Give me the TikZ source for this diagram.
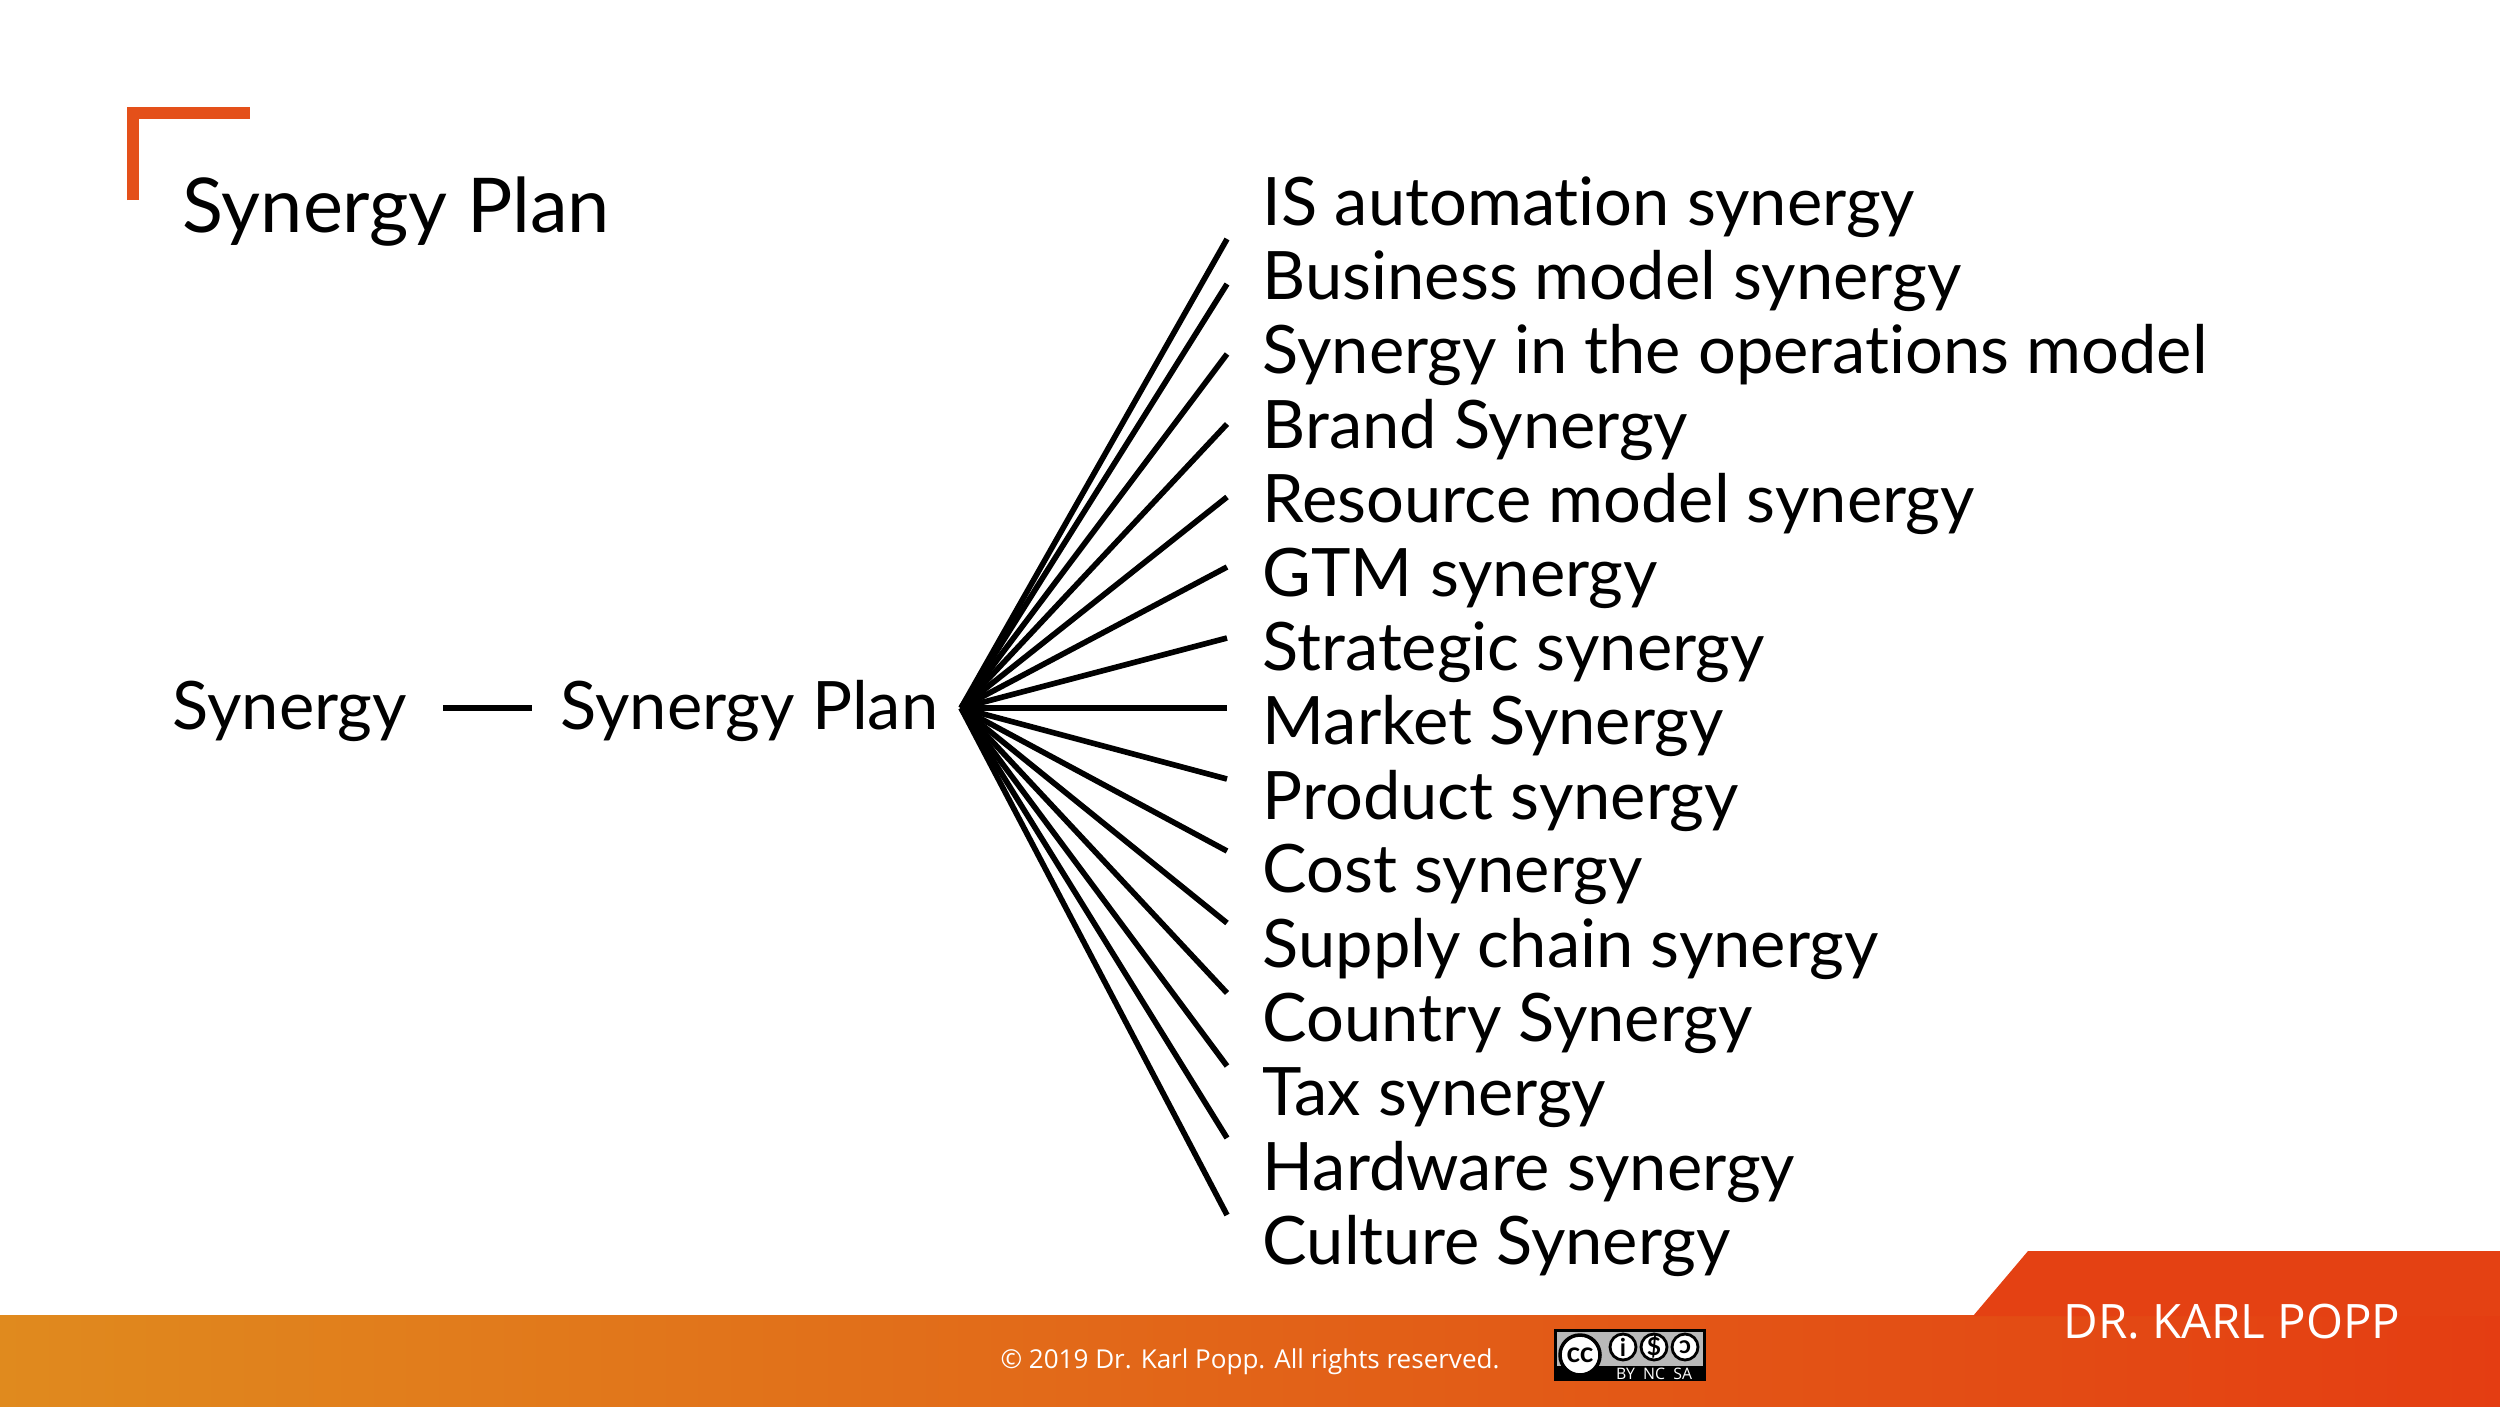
\documentclass[tikz,border=0pt]{standalone}
\usepackage{fontspec}
\setmainfont[Ligatures=NoCommon]{Lato}
\newfontfamily\osans{Open Sans}
\usetikzlibrary{calc}
\definecolor{orL}{HTML}{E08A1E}
\definecolor{orR}{HTML}{E43D12}
\definecolor{brk}{HTML}{E4501A}
\tikzset{lbl/.style={anchor=west,inner sep=0pt,font=\fontsize{19}{19}\selectfont},
 fan/.style={line width=1.6pt},
 mid/.style={inner sep=0pt,font=\fontsize{19}{19}\selectfont}}
\begin{document}
\begin{tikzpicture}[x=0.01cm,y=-0.01cm]
\useasboundingbox (0,0) rectangle (2500,1406);
\fill[white] (0,0) rectangle (2500,1406);
% bracket
\draw[brk,line width=3.2pt] (133,200) -- (133,113) -- (250,113);
\node[anchor=west,inner sep=0pt,font=\fontsize{21.5}{21.5}\selectfont] (title) at (182,212) {Synergy Plan};
% bottom bar
\shade[left color=orL,right color=orR] (0,1315) rectangle (2500,1406);
\fill[orR!95!orL] (1973,1316) -- (2028,1251) -- (2500,1251) -- (2500,1316) -- cycle;
\node[text=white,font=\osans\fontsize{13.5}{13.5}\selectfont] (kp) at (2232,1322) {DR. KARL POPP};
\node[text=white,font=\osans\fontsize{7.4}{7.4}\selectfont] (cp) at (1250,1362) {© 2019 Dr. Karl Popp. All rights reserved.};
% CC badge
\fill[black] (1554,1329) rectangle (1706,1381);
\fill[gray!55] (1557,1332) rectangle (1703,1366);
\fill[white,draw=black,line width=1pt] (1580,1355) circle (20);
\node[font=\bfseries\fontsize{8}{8}\selectfont] (c1) at (1580,1355) {cc};
\foreach \xx in {1623,1654,1685}{
  \fill[white,draw=black,line width=0.8pt] (\xx,1347) circle (13);}
\node[font=\bfseries\fontsize{7}{7}\selectfont] (c2) at (1623,1347) {i};
\node[font=\bfseries\fontsize{7}{7}\selectfont] (c3) at (1654,1347) {\$};
\node[font=\bfseries\fontsize{7}{7}\selectfont] (c4) at (1685,1347) {ↄ};
\node[text=white,font=\osans\fontsize{4.5}{4.5}\selectfont] (c5) at (1654,1374) {BY\ \ NC\ \ SA};
% main
\node[mid,anchor=west] (syn) at (172,711) {Synergy};
\node[mid,anchor=west] (sp) at (560,711) {Synergy Plan};
\coordinate (d1) at (443,708); \coordinate (d2) at (532,708);
\draw[line width=1.8pt] (d1) -- (d2);
\coordinate (o) at (961,708);
\foreach \i/\ey/\t in {0/239/IS automation synergy,1/284/Business model synergy,2/354/Synergy in the operations model,3/424/Brand Synergy,4/497/Resource model synergy,5/567/GTM synergy,6/638/Strategic synergy,7/708/Market Synergy,8/779/Product synergy,9/851/Cost synergy,10/923/Supply chain synergy,11/993/Country Synergy,12/1066/Tax synergy,13/1138/Hardware synergy,14/1215/Culture Synergy}{
  \node[lbl] (l\i) at (1262,{207+74.2*\i}) {\t};
  \coordinate (e\i) at (1227,\ey);
  \draw[fan] (o) -- (e\i);
}
\end{tikzpicture}
\end{document}
